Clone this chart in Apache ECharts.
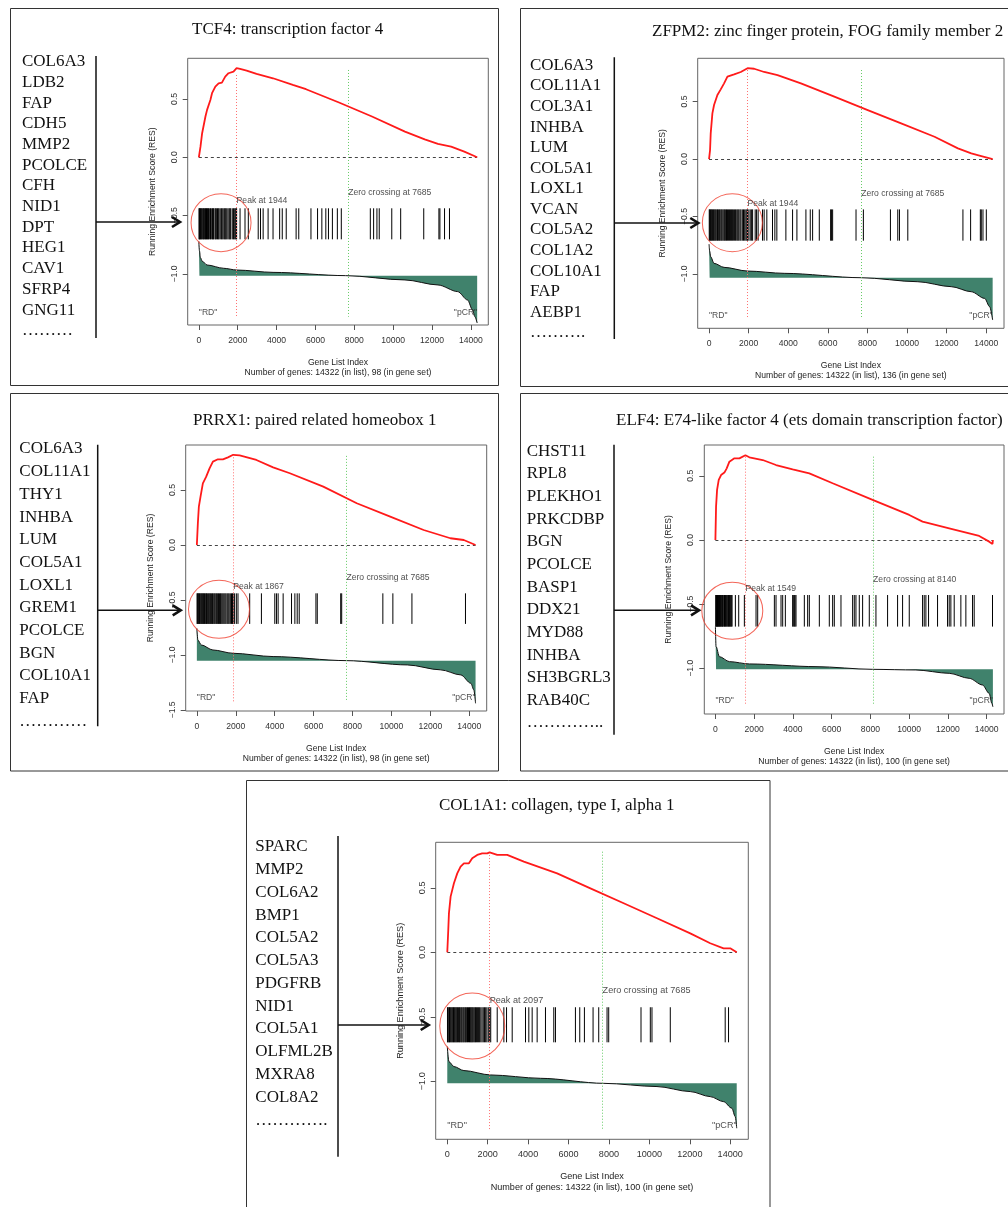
<!DOCTYPE html>
<html lang="en">
<head>
    <meta charset="UTF-8">
    <title>GSEA running enrichment plots</title>
    <style>
        html, body { margin: 0; padding: 0; background: #fff; }
        #main { width: 1008px; height: 1207px; }
    </style>
</head>
<body>

    <div id="main"></div>

    <script src="https://cdn.jsdelivr.net/npm/echarts@6/dist/echarts.min.js"></script>

    <script>
        // ---- data ----
        var listSize = 14322;
        var xTicks = [0, 2000, 4000, 6000, 8000, 10000, 12000, 14000];

        var titles = [
            'TCF4: transcription factor 4',
            'ZFPM2: zinc finger protein, FOG family member 2',
            'PRRX1: paired related homeobox 1',
            'ELF4: E74-like factor 4 (ets domain transcription factor)',
            'COL1A1: collagen, type I, alpha 1'
        ];
        var peaks = [1944, 1944, 1867, 1549, 2097];
        var zeroCrossings = [7685, 7685, 7685, 8140, 7685];
        var setSizes = [98, 136, 98, 100, 100];

        var tcf4Genes = ['COL6A3', 'LDB2', 'FAP', 'CDH5', 'MMP2', 'PCOLCE', 'CFH', 'NID1', 'DPT', 'HEG1', 'CAV1', 'SFRP4', 'GNG11'];
        var zfpm2Genes = ['COL6A3', 'COL11A1', 'COL3A1', 'INHBA', 'LUM', 'COL5A1', 'LOXL1', 'VCAN', 'COL5A2', 'COL1A2', 'COL10A1', 'FAP', 'AEBP1'];
        var prrx1Genes = ['COL6A3', 'COL11A1', 'THY1', 'INHBA', 'LUM', 'COL5A1', 'LOXL1', 'GREM1', 'PCOLCE', 'BGN', 'COL10A1', 'FAP'];
        var elf4Genes = ['CHST11', 'RPL8', 'PLEKHO1', 'PRKCDBP', 'BGN', 'PCOLCE', 'BASP1', 'DDX21', 'MYD88', 'INHBA', 'SH3BGRL3', 'RAB40C'];
        var col1a1Genes = ['SPARC', 'MMP2', 'COL6A2', 'BMP1', 'COL5A2', 'COL5A3', 'PDGFRB', 'NID1', 'COL5A1', 'OLFML2B', 'MXRA8', 'COL8A2'];

        // running enrichment score (red line)
        var tcf4Res = [[0, 0], [85, 0.091], [170, 0.206], [340, 0.349], [424, 0.406], [594, 0.491], [679, 0.549], [849, 0.606], [1018, 0.634], [1188, 0.64], [1358, 0.691], [1527, 0.72], [1782, 0.734], [1944, 0.763], [2121, 0.757], [2461, 0.743], [2970, 0.714], [3818, 0.677], [4836, 0.62], [5515, 0.583], [7212, 0.469], [8909, 0.349], [10606, 0.22], [11624, 0.154], [12303, 0.114], [12982, 0.091], [13660, 0.049], [14322, 0]];
        var zfpm2Res = [[0, 0], [51, 0.078], [84, 0.223], [169, 0.397], [253, 0.47], [422, 0.557], [590, 0.606], [759, 0.658], [928, 0.716], [1265, 0.736], [1602, 0.757], [1944, 0.79], [2278, 0.785], [2783, 0.757], [3458, 0.73], [4639, 0.658], [6326, 0.542], [8013, 0.426], [9700, 0.31], [11387, 0.194], [12568, 0.093], [13243, 0.049], [13749, 0.026], [14322, 0]];
        var prrx1Res = [[0, 0], [52, 0.197], [103, 0.348], [189, 0.439], [309, 0.56], [481, 0.621], [653, 0.697], [825, 0.758], [1083, 0.779], [1341, 0.779], [1599, 0.797], [1867, 0.82], [2200, 0.815], [3060, 0.773], [3919, 0.706], [4779, 0.652], [6498, 0.53], [8217, 0.379], [9936, 0.258], [11655, 0.136], [13030, 0.061], [13717, 0.045], [14322, 0]];
        var elf4Res = [[0, 0], [34, 0.26], [86, 0.39], [172, 0.468], [292, 0.506], [464, 0.525], [584, 0.558], [722, 0.61], [980, 0.636], [1238, 0.636], [1549, 0.66], [1753, 0.644], [2441, 0.623], [3129, 0.584], [3988, 0.551], [4848, 0.519], [6051, 0.442], [8114, 0.312], [10005, 0.195], [10692, 0.143], [12067, 0.091], [13099, 0.052], [13614, 0.031], [14130, -0.013], [14302, -0.031], [14322, 0]];
        var col1a1Res = [[0, 0], [49, 0.173], [82, 0.302], [165, 0.432], [329, 0.535], [494, 0.612], [659, 0.664], [823, 0.69], [1071, 0.69], [1235, 0.729], [1482, 0.755], [1729, 0.767], [1976, 0.767], [2097, 0.775], [2471, 0.755], [2965, 0.755], [3788, 0.703], [5435, 0.612], [7082, 0.496], [8729, 0.38], [10376, 0.264], [12023, 0.147], [13011, 0.07], [13670, 0.031], [14000, 0.031], [14322, 0]];

        // ranked list metric (black curve over green fill)
        var tcf4Rank = [[0, -0.72], [30, -0.8], [85, -0.86], [170, -0.89], [425, -0.923], [1273, -0.951], [1952, -0.966], [3818, -0.986], [7551, -1.014], [10606, -1.051], [12303, -1.094], [13321, -1.151], [13830, -1.223], [14085, -1.309], [14204, -1.366], [14322, -1.42]];
        var zfpm2Rank = [[0, -0.74], [30, -0.8], [84, -0.85], [253, -0.907], [759, -0.942], [1940, -0.974], [3796, -0.994], [7675, -1.032], [10543, -1.067], [12230, -1.11], [13243, -1.154], [13918, -1.212], [14171, -1.284], [14322, -1.4]];
        var prrx1Rank = [[0, -0.758], [52, -0.864], [224, -0.909], [825, -0.955], [1857, -0.985], [3920, -1.015], [7700, -1.052], [10814, -1.091], [12533, -1.136], [13564, -1.182], [14080, -1.258], [14233, -1.318], [14322, -1.44]];
        var elf4Rank = [[0, -0.675], [34, -0.83], [206, -0.909], [722, -0.948], [1753, -0.966], [5192, -0.987], [8114, -1.008], [10348, -1.013], [12067, -1.039], [13099, -1.078], [13786, -1.13], [14130, -1.195], [14268, -1.273], [14322, -1.3]];
        var col1a1Rank = [[0, -0.731], [82, -0.848], [329, -0.886], [823, -0.917], [2141, -0.951], [4612, -0.977], [7741, -1.016], [10376, -1.041], [12023, -1.08], [13011, -1.119], [13670, -1.158], [14082, -1.209], [14247, -1.274], [14322, -1.364]];

        // positions of gene set members in the ranked list (hit bars)
        var tcf4Hits = [10, 30, 55, 90, 120, 150, 200, 230, 260, 300, 340, 370, 395, 450, 470, 500, 560, 600, 640, 700, 730, 760, 830, 870, 900, 960, 1000, 1040, 1100, 1160, 1200, 1250, 1310, 1350, 1390, 1440, 1500, 1560, 1600, 1640, 1720, 1780, 1820, 1870, 1910, 1944,
            2121, 2376, 2546, 3055, 3173, 3309, 3564, 3818, 4158, 4293, 4497, 5006, 5142, 5770, 6109, 6330, 6534, 6670, 6873, 7128, 7331, 8824, 8994, 9164, 9283, 9928, 10386, 11573, 12354, 12405, 12643, 12897];
        var zfpm2Hits = [10, 35, 70, 110, 140, 180, 220, 260, 300, 340, 390, 430, 470, 520, 560, 610, 650, 700, 750, 790, 840, 880, 930, 980, 1030, 1080, 1130, 1180, 1230, 1290, 1340, 1400, 1450, 1500, 1560, 1610, 1680, 1740, 1800, 1860, 1910, 1944, 2010, 2080, 2150, 2200,
            2330, 2400, 2480, 2699, 2783, 2918, 3205, 3323, 3424, 3880, 4218, 4437, 4892, 5111, 5230, 5567, 6140, 6180, 6241, 7422, 7794, 9160, 9531, 9616, 10037, 12821, 13209, 13700, 13749, 13833, 14002];
        var prrx1Hits = [10, 40, 70, 100, 140, 170, 210, 250, 280, 320, 350, 390, 430, 470, 500, 540, 590, 630, 670, 710, 760, 800, 840, 890, 930, 980, 1020, 1070, 1110, 1160, 1210, 1250, 1300, 1350, 1400, 1450, 1500, 1560, 1610, 1660, 1720, 1780, 1830, 1867, 1940, 2030,
            2114, 2716, 3318, 4005, 4091, 4177, 4435, 4865, 5037, 5157, 5260, 6119, 6188, 7392, 7443, 9558, 10073, 11053, 13804];
        var elf4Hits = [20, 34, 60, 86, 110, 130, 155, 180, 206, 230, 258, 290, 327, 350, 378, 400, 447, 470, 516, 540, 584, 610, 653, 680, 722, 750, 791, 820, 860, 1031, 1203, 1495,
            2097, 2183, 3043, 3129, 3387, 3473, 3610, 3988, 4020, 4074, 4110, 4160, 4590, 4762, 4848, 5364, 5879, 6051, 6137, 6481, 7083, 7168, 7254, 7426, 7598, 7942, 8286, 8887, 9403, 9661, 10005, 10692, 10778, 10864, 11001, 11466, 11981, 12067, 12153, 12325, 12669, 12927, 13271, 13357, 14302];
        var col1a1Hits = [10, 40, 80, 110, 150, 190, 230, 270, 310, 350, 390, 430, 470, 510, 560, 600, 640, 690, 730, 780, 820, 870, 910, 960, 1000, 1050, 1100, 1140, 1180, 1220, 1260, 1310, 1360, 1400, 1450, 1500, 1550, 1600, 1660, 1720, 1780, 1840, 1900, 1960, 2030, 2097, 2150,
            2471, 2800, 2932, 3212, 3871, 4035, 4200, 4447, 4859, 5270, 5353, 6341, 6555, 6786, 7214, 7494, 7906, 7988, 9586, 10047, 10129, 11035, 13752, 13917];

        // ---- layout of each panel on the page ----
        var layouts = [
            { grid: [187.7, 58.3, 300.6, 266.7], y: [-1.437, 0.848], yTicks: [-1, -0.5, 0, 0.5], hit: [-0.437, -0.703], base: -1.014,
              peakLine: [0.705, -1.366], zeroLine: [0.748, -1.366], peakTextY: -0.375, zeroTextY: -0.3, endTextY: -1.335, circle: [1143, -0.56, 60, 58],
              box: [10.5, 8.5, 488, 377], title: [192, 30], genes: [22, 62, 20.67], dots: '………', vline: [96, 56, 338], arrow: [96, 180, 222], fs: 8.6 },
            { grid: [697.7, 58.3, 306.3, 270], y: [-1.472, 0.876], yTicks: [-1, -0.5, 0, 0.5], hit: [-0.438, -0.71], base: -1.032,
              peakLine: [0.774, -1.385], zeroLine: [0.774, -1.385], peakTextY: -0.385, zeroTextY: -0.304, endTextY: -1.362, circle: [1177, -0.554, 60, 58],
              box: [520.5, 8.5, 500, 378], title: [652, 32], genes: [530, 65.3, 20.58], dots: '……….', vline: [614.3, 57.3, 339], arrow: [614.3, 698.3, 223], fs: 8.6 },
            { grid: [185.7, 445, 301, 266], y: [-1.51, 0.909], yTicks: [-1.5, -1, -0.5, 0, 0.5], hit: [-0.44, -0.718], base: -1.052,
              peakLine: [0.797, -1.424], zeroLine: [0.81, -1.424], peakTextY: -0.379, zeroTextY: -0.297, endTextY: -1.385, circle: [1138, -0.585, 61, 58],
              box: [10.5, 393.5, 488, 377.5], title: [193, 421], genes: [19.3, 449, 22.7], dots: '…………', vline: [97.7, 444.7, 726.3], arrow: [97.7, 180.7, 610.3], fs: 8.6 },
            { grid: [704.3, 445, 299.7, 269], y: [-1.356, 0.74], yTicks: [-1, -0.5, 0, 0.5], hit: [-0.429, -0.675], base: -1.008,
              peakLine: [0.649, -1.286], zeroLine: [0.649, -1.286], peakTextY: -0.382, zeroTextY: -0.306, endTextY: -1.255, circle: [872, -0.551, 61, 57],
              box: [520.5, 393.5, 500, 377.5], title: [616, 421], genes: [526.7, 451.3, 22.64], dots: '…………..', vline: [614, 444.7, 734.7], arrow: [614, 699, 610.3], fs: 8.6 },
            { grid: [435.7, 842.3, 312.6, 297], y: [-1.45, 0.853], yTicks: [-1, -0.5, 0, 0.5], hit: [-0.426, -0.698], base: -1.016,
              peakLine: [0.754, -1.378], zeroLine: [0.78, -1.378], peakTextY: -0.375, zeroTextY: -0.298, endTextY: -1.339, circle: [1237, -0.571, 65, 66],
              box: [246.5, 780.5, 523.5, 440], title: [439, 806], genes: [255.3, 846.7, 22.78], dots: '………….', vline: [338, 836, 1156.7], arrow: [338, 428.7, 1025], fs: 9.1 }
        ];

        var panels = [
            { genes: tcf4Genes, res: tcf4Res, rank: tcf4Rank, hits: tcf4Hits },
            { genes: zfpm2Genes, res: zfpm2Res, rank: zfpm2Rank, hits: zfpm2Hits },
            { genes: prrx1Genes, res: prrx1Res, rank: prrx1Rank, hits: prrx1Hits },
            { genes: elf4Genes, res: elf4Res, rank: elf4Rank, hits: elf4Hits },
            { genes: col1a1Genes, res: col1a1Res, rank: col1a1Rank, hits: col1a1Hits }
        ];

        var sans = '"Liberation Sans", Arial, Helvetica, sans-serif';
        var serif = '"Liberation Serif", "Times New Roman", serif';

        function yFmt(v) {
            return (v < 0 ? '\u2212' : '') + Math.abs(v).toFixed(1);
        }

        function hitItem(params, api) {
            var a = api.coord([api.value(0), api.value(1)]);
            var b = api.coord([api.value(0), api.value(2)]);
            return {
                type: 'line',
                shape: { x1: a[0], y1: a[1], x2: b[0], y2: b[1] },
                style: { stroke: '#000', lineWidth: 1 }
            };
        }

        var option = {
            animation: false,
            backgroundColor: '#fff',
            grid: [], xAxis: [], yAxis: [], series: [],
            graphic: { elements: [] }
        };

        panels.forEach(function (p, i) {
            var L = layouts[i];
            var peak = peaks[i], zero = zeroCrossings[i];

            option.grid.push({
                left: L.grid[0], top: L.grid[1], width: L.grid[2], height: L.grid[3],
                show: true, borderColor: '#666', borderWidth: 1
            });

            option.xAxis.push({
                type: 'value', gridIndex: i, min: -573, max: 14895,
                axisLine: { show: false, onZero: false },
                axisTick: { show: true, customValues: xTicks, length: 5, lineStyle: { color: '#555' } },
                axisLabel: { customValues: xTicks, margin: 11, fontSize: L.fs, fontFamily: sans, color: '#333',
                    formatter: function (v) { return String(v); } },
                splitLine: { show: false },
                name: 'Gene List Index\nNumber of genes: ' + listSize + ' (in list), ' + setSizes[i] + ' (in gene set)',
                nameLocation: 'middle', nameGap: 32,
                nameTextStyle: { fontSize: L.fs, fontFamily: sans, color: '#222', lineHeight: L.fs * 1.22 }
            });

            option.yAxis.push({
                type: 'value', gridIndex: i, min: L.y[0], max: L.y[1],
                axisLine: { show: false, onZero: false },
                axisTick: { show: true, customValues: L.yTicks, length: 5, lineStyle: { color: '#555' } },
                axisLabel: { customValues: L.yTicks, rotate: 90, margin: 9, fontSize: L.fs, fontFamily: sans, color: '#333',
                    formatter: yFmt },
                splitLine: { show: false },
                name: 'Running Enrichment Score (RES)',
                nameLocation: 'middle', nameGap: 31, nameRotate: 90,
                nameTextStyle: { fontSize: L.fs, fontFamily: sans, color: '#222' }
            });

            // ranked list metric, filled to its zero level
            option.series.push({
                type: 'line', xAxisIndex: i, yAxisIndex: i, data: p.rank,
                symbol: 'none', smooth: 0.3, smoothMonotone: 'x', silent: true, z: 2,
                lineStyle: { color: '#111', width: 1 },
                areaStyle: { origin: L.base, color: '#40826c', opacity: 1 }
            });

            // hit bars
            option.series.push({
                type: 'custom', xAxisIndex: i, yAxisIndex: i, silent: true, z: 3,
                data: p.hits.map(function (h) { return [h, L.hit[0], L.hit[1]]; }),
                renderItem: hitItem
            });

            // running enrichment score + reference lines
            option.series.push({
                type: 'line', xAxisIndex: i, yAxisIndex: i, data: p.res,
                symbol: 'none', silent: true, z: 5,
                lineStyle: { color: '#ff1a1a', width: 1.8 },
                markLine: {
                    silent: true, symbol: ['none', 'none'], label: { show: false }, animation: false,
                    data: [
                        [{ coord: [0, 0], lineStyle: { color: '#444', type: [3, 3], width: 1 } }, { coord: [listSize, 0] }],
                        [{ coord: [peak, L.peakLine[0]], lineStyle: { color: '#ff7070', type: [1, 2], width: 1 } }, { coord: [peak, L.peakLine[1]] }],
                        [{ coord: [zero, L.zeroLine[0]], lineStyle: { color: '#66cc66', type: [1, 2], width: 1 } }, { coord: [zero, L.zeroLine[1]] }]
                    ]
                }
            });

            // red circle around the leading edge
            option.series.push({
                type: 'scatter', xAxisIndex: i, yAxisIndex: i, silent: true, z: 6,
                symbol: 'circle', symbolSize: [L.circle[2], L.circle[3]],
                data: [[L.circle[0], L.circle[1]]],
                itemStyle: { color: 'rgba(0,0,0,0)', borderColor: '#f04030', borderWidth: 1 }
            });

            // annotations
            option.series.push({
                type: 'scatter', xAxisIndex: i, yAxisIndex: i, silent: true, z: 7,
                symbolSize: 1, itemStyle: { color: 'rgba(0,0,0,0)' },
                label: { show: true, position: 'inside', formatter: '{b}', fontSize: L.fs, fontFamily: sans, color: '#222', verticalAlign: 'middle' },
                data: [
                    { name: 'Peak at ' + peak, value: [peak, L.peakTextY], label: { align: 'left' } },
                    { name: 'Zero crossing at ' + zero, value: [zero, L.zeroTextY], label: { align: 'left' } },
                    { name: '"RD"', value: [0, L.endTextY], label: { align: 'left' } },
                    { name: '"pCR"', value: [listSize, L.endTextY], label: { align: 'right' } }
                ]
            });

            // page furniture: box, title, gene list, arrow
            var g = option.graphic.elements;
            g.push({ type: 'rect', shape: { x: L.box[0], y: L.box[1], width: L.box[2], height: L.box[3] },
                style: { fill: 'none', stroke: '#333', lineWidth: 1 }, silent: true });
            g.push({ type: 'text', style: { text: titles[i], x: L.title[0], y: L.title[1], fontSize: 17, fontFamily: serif,
                fill: '#111', align: 'left', verticalAlign: 'middle', textAlign: 'left', textVerticalAlign: 'middle' }, silent: true });
            p.genes.concat([L.dots]).forEach(function (name, k) {
                g.push({ type: 'text', style: { text: name, x: L.genes[0], y: L.genes[1] + k * L.genes[2], fontSize: 17, fontFamily: serif,
                    fill: '#111', align: 'left', verticalAlign: 'middle', textAlign: 'left', textVerticalAlign: 'middle' }, silent: true });
            });
            g.push({ type: 'line', shape: { x1: L.vline[0], y1: L.vline[1], x2: L.vline[0], y2: L.vline[2] },
                style: { stroke: '#111', lineWidth: 1.5 }, silent: true });
            g.push({ type: 'line', shape: { x1: L.arrow[0], y1: L.arrow[2], x2: L.arrow[1] - 1, y2: L.arrow[2] },
                style: { stroke: '#111', lineWidth: 1.5 }, silent: true, z: 20 });
            g.push({ type: 'polyline', shape: { points: [[L.arrow[1] - 8, L.arrow[2] - 5], [L.arrow[1], L.arrow[2]], [L.arrow[1] - 8, L.arrow[2] + 5]] },
                style: { stroke: '#111', fill: 'none', lineWidth: 2.6 }, silent: true, z: 20 });
        });

        var myChart = echarts.init(document.getElementById('main'));
        myChart.setOption(option);
    </script>

</body>
</html>
